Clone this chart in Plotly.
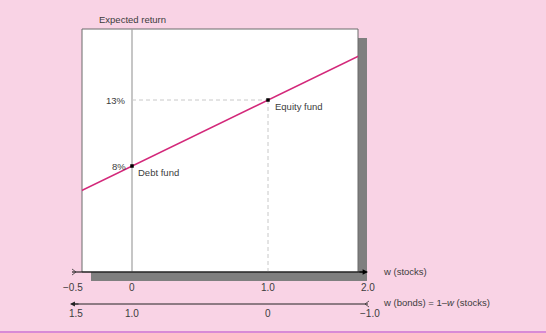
import plotly.graph_objects as go

# ---- data ----
fund_names = ["Debt fund", "Equity fund"]
fund_w = [0.0, 1.0]            # weight in stocks
fund_ret = [8.0, 13.0]         # expected return, %
line_w = [-0.37, 1.67]         # portfolio line, visible extent
line_ret = [6.15, 16.35]
stock_tick_labels = ["\u22120.5", "0", "1.0", "2.0"]
bond_tick_labels = ["1.5", "1.0", "0", "\u22121.0"]
y_tick_vals = [8, 13]
y_tick_text = ["8%", "13%"]

W, H = 546, 333
BG = "#F9D3E5"
TXT = "#3c3c3c"
FONT = "Liberation Sans, Arial, sans-serif"
FS = 9.5

def X(px):
    return px / W

def Y(py):
    return 1 - py / H

# plot box in pixels
L, R, T, B = 82, 358, 29, 272
# data scale: w=0 at 132px, w=1 at 268px ; 8% at 166px, 13% at 100px
x_range = [(L - 132) / 136, (R - 132) / 136]
y_range = [8 - (B - 166) / 13.2, 8 + (166 - T) / 13.2]

fig = go.Figure()

fig.add_trace(go.Scatter(
    x=line_w, y=line_ret, mode="lines",
    line=dict(color="#D3287A", width=1.6),
    hoverinfo="skip", showlegend=False, cliponaxis=True))

fig.add_trace(go.Scatter(
    x=fund_w, y=fund_ret, mode="markers",
    marker=dict(symbol="square", size=3.5, color="black"),
    hoverinfo="skip", showlegend=False))

shapes = []
# shadow
shapes.append(dict(type="rect", xref="paper", yref="paper",
                   x0=X(91), x1=X(367), y0=Y(281), y1=Y(38),
                   fillcolor="#7f7f7f", line=dict(width=0), layer="below"))
# white plot box
shapes.append(dict(type="rect", xref="paper", yref="paper",
                   x0=X(L), x1=X(R), y0=Y(B), y1=Y(T),
                   fillcolor="white", line=dict(color="#6a6a6a", width=1), layer="below"))
# vertical axis line at w = 0
shapes.append(dict(type="line", xref="x", yref="paper",
                   x0=0, x1=0, y0=Y(B), y1=Y(T),
                   line=dict(color="#a0a0a0", width=1.2), layer="below"))
# dashed guides to equity fund
shapes.append(dict(type="line", xref="x", yref="y",
                   x0=fund_w[0], x1=fund_w[1], y0=fund_ret[1], y1=fund_ret[1],
                   line=dict(color="#c8c8c8", width=1, dash="4px,3px"), layer="below"))
shapes.append(dict(type="line", xref="x", yref="y",
                   x0=fund_w[1], x1=fund_w[1], y0=y_range[0], y1=fund_ret[1],
                   line=dict(color="#c8c8c8", width=1, dash="4px,3px"), layer="below"))
# main axis line (stocks)
shapes.append(dict(type="line", xref="paper", yref="paper",
                   x0=X(72), x1=X(364), y0=Y(272), y1=Y(272),
                   line=dict(color="black", width=1.2)))
# feather at left end of stocks axis
shapes.append(dict(type="path", xref="paper", yref="paper",
                   path=f"M {X(72)},{Y(269)} L {X(76)},{Y(272)} L {X(72)},{Y(275)}",
                   line=dict(color="#333", width=0.8)))
# bonds axis line
shapes.append(dict(type="line", xref="paper", yref="paper",
                   x0=X(74), x1=X(368), y0=Y(304), y1=Y(304),
                   line=dict(color="#222", width=1)))
# feather at right end of bonds axis
shapes.append(dict(type="path", xref="paper", yref="paper",
                   path=f"M {X(369)},{Y(301)} L {X(365)},{Y(304)} L {X(369)},{Y(307)}",
                   line=dict(color="#333", width=0.8)))
# bottom border line
shapes.append(dict(type="line", xref="paper", yref="paper",
                   x0=0, x1=1, y0=Y(332), y1=Y(332),
                   line=dict(color="#D98AD6", width=2)))

ann = []
# arrow heads
ann.append(dict(xref="paper", yref="paper", x=X(368), y=Y(272), ax=-10, ay=0,
                text="", showarrow=True, arrowhead=2, arrowsize=0.9,
                arrowwidth=1.2, arrowcolor="black", standoff=0))
ann.append(dict(xref="paper", yref="paper", x=X(70), y=Y(304), ax=10, ay=0,
                text="", showarrow=True, arrowhead=2, arrowsize=0.9,
                arrowwidth=1.1, arrowcolor="#222", standoff=0))

# tick label positions along the axes (arrow ends for the outer labels)
tick_px = [73, 132, 268, 368]
bond_px = [76, 132, 268, 370]
for lab, p in zip(stock_tick_labels, tick_px):
    ann.append(dict(xref="paper", yref="paper", x=X(p), y=Y(287), text=lab,
                    showarrow=False, xanchor="center", yanchor="middle",
                    font=dict(family=FONT, size=FS + 0.5, color=TXT)))
for lab, p in zip(bond_tick_labels, bond_px):
    ann.append(dict(xref="paper", yref="paper", x=X(p), y=Y(313), text=lab,
                    showarrow=False, xanchor="center", yanchor="middle",
                    font=dict(family=FONT, size=FS + 0.5, color=TXT)))
# y tick labels
for v, t in zip(y_tick_vals, y_tick_text):
    ann.append(dict(xref="x", yref="y", x=0, y=v, text=t, showarrow=False,
                    xanchor="right", yanchor="middle", xshift=-4,
                    font=dict(family=FONT, size=FS, color=TXT)))
# fund labels
ann.append(dict(xref="x", yref="y", x=fund_w[0], y=fund_ret[0], text=fund_names[0],
                showarrow=False, xanchor="left", yanchor="middle", xshift=4, yshift=-6,
                font=dict(family=FONT, size=FS, color=TXT)))
ann.append(dict(xref="x", yref="y", x=fund_w[1], y=fund_ret[1], text=fund_names[1],
                showarrow=False, xanchor="left", yanchor="middle", xshift=5, yshift=-6,
                font=dict(family=FONT, size=FS, color=TXT)))
# axis titles
ann.append(dict(xref="x", yref="paper", x=0, y=Y(20), text="Expected return",
                showarrow=False, xanchor="center", yanchor="middle",
                font=dict(family=FONT, size=FS, color=TXT)))
ann.append(dict(xref="paper", yref="paper", x=X(381), y=Y(271), text="w (stocks)",
                showarrow=False, xanchor="left", yanchor="middle",
                font=dict(family=FONT, size=FS, color=TXT)))
ann.append(dict(xref="paper", yref="paper", x=X(381), y=Y(302),
                text="w (bonds) = 1\u2013<i>w</i> (stocks)",
                showarrow=False, xanchor="left", yanchor="middle",
                font=dict(family=FONT, size=FS, color=TXT)))

fig.update_layout(
    width=W, height=H,
    margin=dict(l=0, r=0, t=0, b=0),
    paper_bgcolor=BG, plot_bgcolor="rgba(0,0,0,0)",
    xaxis=dict(domain=[X(L), X(R)], range=x_range, visible=False, fixedrange=True),
    yaxis=dict(domain=[Y(B), Y(T)], range=y_range, visible=False, fixedrange=True),
    shapes=shapes, annotations=ann, showlegend=False,
)

fig.write_html("out.html", config={"displayModeBar": False})
